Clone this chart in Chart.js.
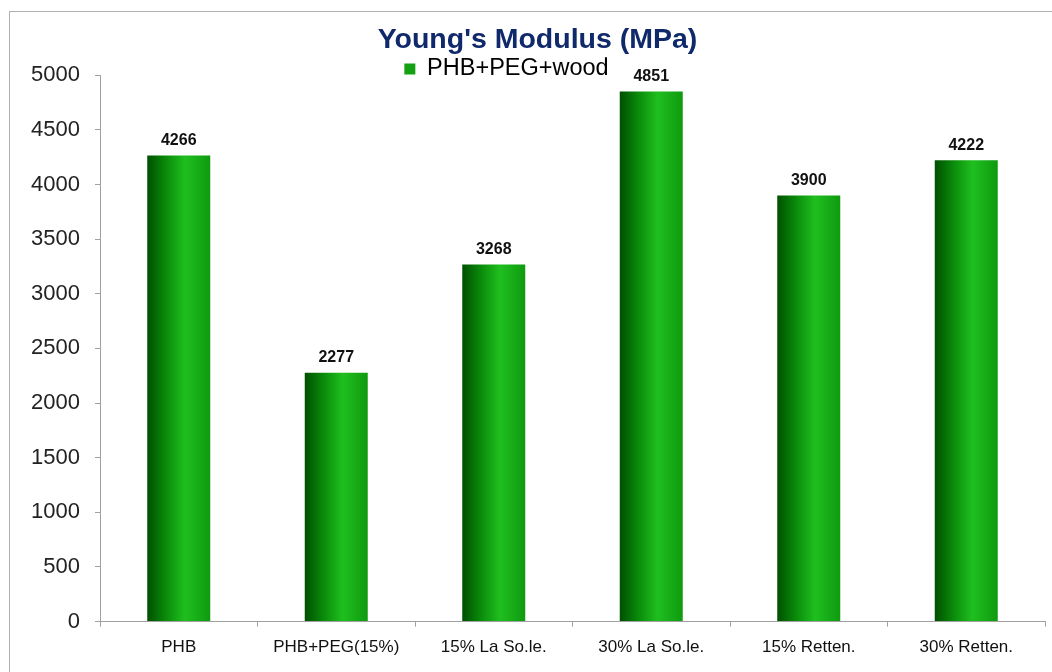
<!DOCTYPE html>
<html>
<head>
<meta charset="utf-8">
<script src="https://cdn.jsdelivr.net/npm/chart.js@4"></script>
<style>
  body { margin: 0; background: #fff; }
  #wrap { position: relative; width: 1052px; height: 672px; overflow: hidden; }
  #frame { position: absolute; left: 9px; top: 11px; width: 1100px; height: 700px; border: 1px solid #b0b0b0; box-sizing: border-box; }
  canvas { position: absolute; left: 0; top: 0; }
</style>
</head>
<body>
<div id="wrap">
  <div id="frame"></div>
  <canvas id="myChart" width="1052" height="672"></canvas>
</div>
<script>
let categories = ["PHB", "PHB+PEG(15%)", "15% La So.le.", "30% La So.le.", "15% Retten.", "30% Retten."]
let values = [4266, 2277, 3268, 4851, 3900, 4222]
let seriesName = "PHB+PEG+wood"
let yMax = 5000
let yStep = 500

let fontFamily = '"Liberation Sans", Arial, sans-serif'

function barGradient(context) {
    let chart = context.chart
    let xs = chart.scales.x
    if (!chart.chartArea || !xs || context.dataIndex === undefined) return '#13a013'
    let center = xs.getPixelForValue(context.dataIndex)
    let half = (xs.width / categories.length) * 0.4 / 2
    let g = chart.ctx.createLinearGradient(center - half, 0, center + half, 0)
    g.addColorStop(0, '#004f00')
    g.addColorStop(0.3, '#0a8c0a')
    g.addColorStop(0.6, '#1fbf1f')
    g.addColorStop(1, '#0f9a0f')
    return g
}

const valueLabels = {
    id: 'valueLabels',
    afterDatasetsDraw(chart) {
        let ctx = chart.ctx
        let meta = chart.getDatasetMeta(0)
        ctx.save()
        ctx.font = 'bold 16px ' + fontFamily
        ctx.fillStyle = '#111'
        ctx.textAlign = 'center'
        ctx.textBaseline = 'bottom'
        meta.data.forEach(function (bar, i) {
            ctx.fillText(values[i], bar.x, bar.y - 7)
        })
        ctx.restore()
    }
}

// legend sits tight on the plot and a bit left of centre, like the original
const legendTweak = {
    id: 'legendTweak',
    afterInit(chart) {
        let legend = chart.legend
        let fit = legend.fit
        legend.fit = function () {
            fit.call(this)
            this.height = 18
        }
    },
    afterLayout(chart) {
        chart.legend.left -= 31
        chart.legend.right -= 31
    }
}

new Chart("myChart", {
    type: "bar",
    data: {
        labels: categories,
        datasets: [{
            label: seriesName,
            data: values,
            backgroundColor: barGradient,
            borderWidth: 0,
            categoryPercentage: 1.0,
            barPercentage: 0.4
        }]
    },
    options: {
        responsive: false,
        animation: false,
        layout: { padding: { left: 30, right: 7, top: 23, bottom: 3 } },
        plugins: {
            title: {
                display: true,
                text: "Young's Modulus (MPa)",
                color: '#10296b',
                font: { family: fontFamily, size: 28.5, weight: 'bold' },
                padding: { top: 0, bottom: 0 }
            },
            legend: {
                display: true,
                labels: {
                    color: '#111',
                    font: { family: fontFamily, size: 23.5 },
                    boxWidth: 11,
                    boxHeight: 11,
                    padding: 0,
                    generateLabels: function () {
                        return [{ text: seriesName, fillStyle: '#13a013', strokeStyle: '#13a013', lineWidth: 0 }]
                    }
                }
            },
            tooltip: { enabled: false }
        },
        scales: {
            x: {
                grid: { display: true, drawOnChartArea: false, drawTicks: true, offset: true, tickLength: 5, color: '#a0a0a0' },
                border: { color: '#a0a0a0' },
                ticks: {
                    color: '#111',
                    font: { family: fontFamily, size: 17 },
                    padding: 11
                }
            },
            y: {
                min: 0,
                max: yMax,
                afterFit: function (scale) { scale.width = 70 },
                grid: { display: true, drawOnChartArea: false, drawTicks: true, tickLength: 5, color: '#a0a0a0' },
                border: { color: '#a0a0a0' },
                ticks: {
                    stepSize: yStep,
                    color: '#222',
                    font: { family: fontFamily, size: 22 },
                    padding: 15,
                    callback: function (v) { return String(v) }
                }
            }
        }
    },
    plugins: [valueLabels, legendTweak]
});
</script>
</body>
</html>
